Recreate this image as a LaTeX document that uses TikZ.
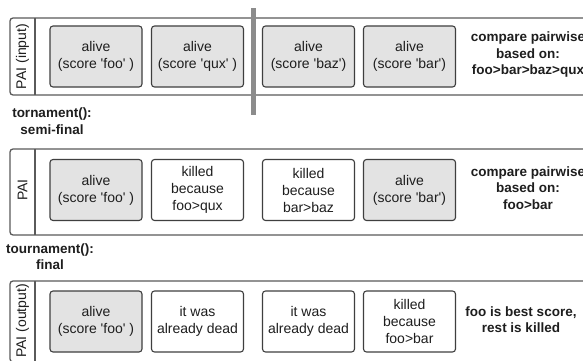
\documentclass[tikz,border=0pt]{standalone}
\usepackage{fontspec}
\setmainfont{Liberation Sans}
\begin{document}
\begin{tikzpicture}[x=1pt,y=-1pt,
  cell/.style={draw=boxline, line width=1.1pt, rounded corners=3pt, minimum width=92pt, minimum height=61pt, inner sep=0pt, align=center, font=\fontsize{14}{17}\selectfont, text=txt},
  alivecell/.style={cell, fill=alivefill},
  deadcell/.style={cell, fill=white},
  frame/.style={draw=frameline, line width=1.3pt},
  note/.style={align=center, inner sep=0pt, font=\bfseries\fontsize{13.5}{16.5}\selectfont, text=txt},
  pai/.style={rotate=90, inner sep=0pt, font=\fontsize{14}{17}\selectfont, text=txt}]
\definecolor{boxline}{HTML}{3F3F3F}
\definecolor{frameline}{HTML}{5A5A5A}
\definecolor{alivefill}{HTML}{E3E3E3}
\definecolor{txt}{HTML}{1E1E1E}
\definecolor{barcol}{HTML}{8C8C8C}
\useasboundingbox (0,0) rectangle (583,361);
\clip (0,0) rectangle (583,361);
\fill[white] (0,0) rectangle (583,361);
% panel 1
\draw[frame, rounded corners=3pt] (10,18) rectangle (640,95);
\draw[frame] (35,18) -- (35,95);
\node[pai] (p1) at (22.5,56.5) {PAI (input)};
\node[alivecell] (a1) at (96,56.5) {alive\\(score \textquotesingle foo\textquotesingle\ )};
\node[alivecell] (a2) at (197.5,56.5) {alive\\(score \textquotesingle qux\textquotesingle\ )};
\node[alivecell] (a3) at (308.5,56.5) {alive\\(score \textquotesingle baz\textquotesingle)};
\node[alivecell] (a4) at (409.5,56.5) {alive\\(score \textquotesingle bar\textquotesingle)};
\node[note] (n1) at (528,55) {compare pairwise\\based on:\\foo>bar>baz>qux};
\fill[barcol] (251,8) rectangle (256,115);
% label 1
\node[note] (l1) at (52,121) {tornament():\\semi-final};
% panel 2
\draw[frame, rounded corners=3pt] (10,149) rectangle (640,235);
\draw[frame] (35,149) -- (35,235);
\node[pai] (p2) at (22.5,190) {PAI};
\node[alivecell] (b1) at (96,190) {alive\\(score \textquotesingle foo\textquotesingle\ )};
\node[deadcell] (b2) at (197.5,190) {killed\\because\\foo>qux};
\node[deadcell] (b3) at (308.5,190) {killed\\because\\bar>baz};
\node[alivecell] (b4) at (409.5,190) {alive\\(score \textquotesingle bar\textquotesingle)};
\node[note] (n2) at (528,188) {compare pairwise\\based on:\\foo>bar};
% label 2
\node[note] (l2) at (50,256.5) {tournament():\\final};
% panel 3
\draw[frame, rounded corners=3pt] (10,281) rectangle (640,362);
\draw[frame] (35,281) -- (35,362);
\node[pai] (p3) at (22.5,321) {PAI (output)};
\node[alivecell] (c1) at (96,321.5) {alive\\(score \textquotesingle foo\textquotesingle\ )};
\node[deadcell] (c2) at (197.5,321.5) {it was\\already dead};
\node[deadcell] (c3) at (308.5,321.5) {it was\\already dead};
\node[deadcell] (c4) at (409.5,321.5) {killed\\because\\foo>bar};
\node[note] (n3) at (521,319.5) {foo is best score,\\rest is killed};
\end{tikzpicture}
\end{document}
